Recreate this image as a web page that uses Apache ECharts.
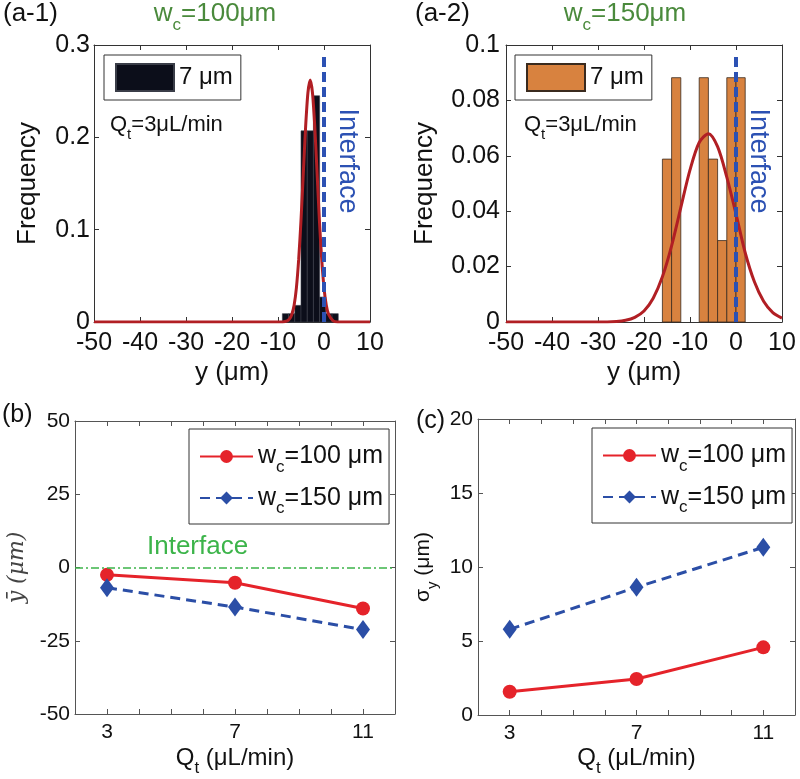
<!DOCTYPE html>
<html>
<head>
<meta charset="utf-8">
<title>Lateral particle position</title>
<script src="https://cdn.jsdelivr.net/npm/echarts@6/dist/echarts.min.js"></script>
<style>
  html, body { margin: 0; padding: 0; background: #fff; }
  #chart { width: 800px; height: 779px; }
</style>
</head>
<body>
<div id="chart"></div>
<script>
// (a-1) histogram, w_c = 100 um : bin edges + frequency of each bin
var a1Edges = [-9.05, -7.7, -6.35, -5.0, -3.65, -2.3, -0.95, 0.4, 1.75, 3.1];
var a1Freq = [0.009, 0.009, 0.018, 0.207, 0.207, 0.245, 0.027, 0.009, 0.009];
var a1FitX = [-50, -10, -9, -8, -7.5, -7, -6.5, -6, -5.5, -5, -4.5, -4, -3.5, -3, -2.5, -2, -1.5, -1, -0.5, 0, 0.5, 1, 2, 3, 10];
var a1FitY = [0, 0, 0.0001, 0.0012, 0.0033, 0.0082, 0.018, 0.037, 0.068, 0.110, 0.161, 0.211, 0.248, 0.262, 0.248, 0.211, 0.161, 0.110, 0.068, 0.037, 0.018, 0.0082, 0.0012, 0.0001, 0];

// (a-2) histogram, w_c = 150 um
var a2Edges = [-16, -14, -12, -10, -8, -6, -4, -2, 0, 2];
var a2Freq = [0.0588, 0.0882, 0, 0, 0.0882, 0.0588, 0.0294, 0.0882, 0.0882];
var a2FitX = [-50, -30, -26, -24, -22, -20, -18, -16, -14, -12, -10, -8, -6, -4, -2, 0, 2, 4, 6, 8, 10];
var a2FitY = [0, 0, 0.0002, 0.0006, 0.0017, 0.004, 0.0086, 0.0163, 0.0275, 0.0413, 0.0549, 0.0648, 0.068, 0.0633, 0.0523, 0.039, 0.025, 0.0145, 0.0075, 0.0034, 0.0014];

// interface (dashed line at y = 0)
var interfaceX = [0, 0];
var a1InterfaceY = [0, 0.292];
var a2InterfaceY = [0, 0.0975];

// (b) mean position and (c) standard deviation vs total flow rate
var qt = [3, 7, 11];
var qtTickLabels = [3, 7, 11];
var meanW100 = [-2.5, -5.2, -14.0];
var meanW150 = [-6.9, -13.5, -21.2];
var sigmaW100 = [1.57, 2.43, 4.57];
var sigmaW150 = [5.79, 8.63, 11.33];

var FONT = 'Liberation Sans, Arial, sans-serif';
function subRich(size, subSize, lh) {
  return {
    n: { fontSize: size, fontFamily: FONT, lineHeight: size },
    s: { fontSize: subSize, fontFamily: FONT, lineHeight: lh, verticalAlign: 'bottom' }
  };
}

function zip(xs, ys) {
  return xs.map(function (x, i) { return [x, ys[i]]; });
}
function hist(edges, freq) {
  var out = [];
  for (var i = 0; i < freq.length; i++) {
    if (freq[i] > 0) out.push([edges[i], edges[i + 1], freq[i]]);
  }
  return out;
}
function renderBin(params, api) {
  var p0 = api.coord([api.value(0), api.value(2)]);
  var p1 = api.coord([api.value(1), 0]);
  return {
    type: 'rect',
    shape: { x: p0[0], y: p0[1], width: p1[0] - p0[0], height: p1[1] - p0[1] },
    style: api.style()
  };
}

function axisBase(gi, min, max, interval, color, fontSize, margin) {
  return {
    type: 'value', gridIndex: gi, min: min, max: max, interval: interval,
    axisLine: { show: true, onZero: false, lineStyle: { color: color, width: 1 } },
    axisTick: { show: true, inside: true, length: 5, lineStyle: { color: color } },
    splitLine: { show: false },
    axisLabel: { color: '#111', fontSize: fontSize, fontFamily: FONT, margin: margin }
  };
}
function mirror(ax, pos) {
  var m = Object.assign({}, ax);
  m.position = pos;
  m.name = '';
  m.axisLabel = { show: false };
  return m;
}

var xA1 = Object.assign(axisBase(0, -50, 10, 10, '#333', 25, 9), {
  name: 'y (μm)', nameLocation: 'middle', nameGap: 38,
  nameTextStyle: { fontSize: 26, fontFamily: FONT, color: '#111' }
});
var xA2 = Object.assign(axisBase(1, -50, 10, 10, '#333', 25, 9), {
  name: 'y (μm)', nameLocation: 'middle', nameGap: 38,
  nameTextStyle: { fontSize: 26, fontFamily: FONT, color: '#111' }
});
var xB = Object.assign(axisBase(2, 2, 12, 1, '#555', 21, 8), {
  name: '{n|Q}{s|t}{n| (μL/min)}', nameLocation: 'middle', nameGap: 25,
  nameTextStyle: { color: '#111', rich: subRich(24, 17, 38) }
});
var xC = Object.assign(axisBase(3, 2, 12, 1, '#555', 21, 8), {
  name: '{n|Q}{s|t}{n| (μL/min)}', nameLocation: 'middle', nameGap: 24,
  nameTextStyle: { color: '#111', rich: subRich(24, 17, 38) }
});
[xB, xC].forEach(function (ax) {
  ax.axisLabel.formatter = function (v) { return qtTickLabels.indexOf(v) >= 0 ? String(v) : ''; };
});

var yA1 = Object.assign(axisBase(0, 0, 0.3, 0.1, '#333', 25, 4), {
  name: 'Frequency', nameLocation: 'middle', nameGap: 53,
  nameTextStyle: { fontSize: 26, fontFamily: FONT, color: '#111' }
});
var yA2 = Object.assign(axisBase(1, 0, 0.1, 0.02, '#333', 25, 6), {
  name: 'Frequency', nameLocation: 'middle', nameGap: 68,
  nameTextStyle: { fontSize: 26, fontFamily: FONT, color: '#111' }
});
var yB = Object.assign(axisBase(2, -50, 50, 25, '#555', 21, 5), {
  name: 'ȳ (μm)', nameLocation: 'middle', nameGap: 47,
  nameTextStyle: { fontSize: 22, fontFamily: 'DejaVu Serif, serif', fontStyle: 'italic', color: '#444' }
});
var yC = Object.assign(axisBase(3, 0, 20, 5, '#555', 21, 5), {
  name: '{n|σ}{s|y}{n| (μm)}', nameLocation: 'middle', nameGap: 38,
  nameTextStyle: { color: '#111', rich: subRich(21, 15, 34) }
});

var legendBase = {
  orient: 'vertical', backgroundColor: '#fff', borderColor: '#333', borderWidth: 1,
  textStyle: { fontSize: 25, fontFamily: FONT, color: '#111', rich: subRich(25, 17, 38) },
  selectedMode: false
};

var option = {
  animation: false,
  backgroundColor: '#fff',
  grid: [
    { left: 94, top: 45, width: 276, height: 277 },
    { left: 506, top: 45, width: 276, height: 277 },
    { left: 75, top: 421, width: 320, height: 293 },
    { left: 478, top: 419, width: 317, height: 296 }
  ],
  xAxis: [xA1, xA2, xB, xC,
    mirror(xA1, 'top'), mirror(xA2, 'top'), mirror(xB, 'top'), mirror(xC, 'top')],
  yAxis: [yA1, yA2, yB, yC,
    mirror(yA1, 'right'), mirror(yA2, 'right'), mirror(yB, 'right'), mirror(yC, 'right')],
  legend: [
    Object.assign({}, legendBase, {
      left: 104, top: 55, padding: [8, 8, 8, 11], itemWidth: 58, itemHeight: 27,
      textStyle: { fontSize: 24, fontFamily: FONT, color: '#111' },
      data: [{ name: 'a1hist', icon: 'rect' }],
      formatter: function () { return '7 μm'; }
    }),
    Object.assign({}, legendBase, {
      left: 515, top: 55, padding: [8, 8, 8, 11], itemWidth: 58, itemHeight: 27,
      textStyle: { fontSize: 24, fontFamily: FONT, color: '#111' },
      data: [{ name: 'a2hist', icon: 'rect' }],
      formatter: function () { return '7 μm'; }
    }),
    Object.assign({}, legendBase, {
      left: 189, top: 429, padding: [15, 6, 7, 10], itemWidth: 53, itemHeight: 16, itemGap: 10,
      data: ['b100', 'b150'],
      formatter: function (n) { return n === 'b100' ? '{n|w}{s|c}{n|=100 μm}' : '{n|w}{s|c}{n|=150 μm}'; }
    }),
    Object.assign({}, legendBase, {
      left: 592, top: 428, padding: [15, 6, 7, 10], itemWidth: 53, itemHeight: 16, itemGap: 10,
      data: ['c100', 'c150'],
      formatter: function (n) { return n === 'c100' ? '{n|w}{s|c}{n|=100 μm}' : '{n|w}{s|c}{n|=150 μm}'; }
    })
  ],
  series: [
    {
      type: 'custom', name: 'a1hist', xAxisIndex: 0, yAxisIndex: 0,
      data: hist(a1Edges, a1Freq), encode: { x: [0, 1], y: 2 },
      itemStyle: { color: '#0c0e1a', borderColor: '#3a3d48', borderWidth: 0.6 },
      renderItem: renderBin, z: 2
    },
    {
      type: 'line', name: 'a1fit', xAxisIndex: 0, yAxisIndex: 0,
      data: zip(a1FitX, a1FitY), showSymbol: false, smooth: 0.2,
      lineStyle: { color: '#b11f24', width: 3 }, itemStyle: { color: '#b11f24' }, z: 3
    },
    {
      type: 'line', name: 'a1interface', xAxisIndex: 0, yAxisIndex: 0,
      data: zip(interfaceX, a1InterfaceY), showSymbol: false,
      lineStyle: { color: '#2c51b3', width: 4, type: [10, 5] }, z: 4
    },
    {
      type: 'custom', name: 'a2hist', xAxisIndex: 1, yAxisIndex: 1,
      data: hist(a2Edges, a2Freq), encode: { x: [0, 1], y: 2 },
      itemStyle: { color: '#d8823f', borderColor: '#3a2a1e', borderWidth: 0.8 },
      renderItem: renderBin, z: 2
    },
    {
      type: 'line', name: 'a2fit', xAxisIndex: 1, yAxisIndex: 1,
      data: zip(a2FitX, a2FitY), showSymbol: false, smooth: 0.3,
      lineStyle: { color: '#b11f24', width: 3 }, itemStyle: { color: '#b11f24' }, z: 3
    },
    {
      type: 'line', name: 'a2interface', xAxisIndex: 1, yAxisIndex: 1,
      data: zip(interfaceX, a2InterfaceY), showSymbol: false,
      lineStyle: { color: '#2c51b3', width: 4, type: [10, 5] }, z: 4
    },
    {
      type: 'line', name: 'b100', xAxisIndex: 2, yAxisIndex: 2,
      data: zip(qt, meanW100), symbol: 'circle', symbolSize: 14,
      lineStyle: { color: '#e5232a', width: 3 }, itemStyle: { color: '#e5232a' }, z: 4,
      markLine: {
        silent: true, symbol: 'none', label: { show: false },
        lineStyle: { color: '#3cb44a', width: 1.5, type: [8, 3, 2, 3] },
        data: [{ yAxis: 0 }]
      }
    },
    {
      type: 'line', name: 'b150', xAxisIndex: 2, yAxisIndex: 2,
      data: zip(qt, meanW150), symbol: 'diamond', symbolSize: [14, 19],
      lineStyle: { color: '#2b4ea6', width: 3, type: [10, 6] }, itemStyle: { color: '#2b4ea6' }, z: 4
    },
    {
      type: 'line', name: 'c100', xAxisIndex: 3, yAxisIndex: 3,
      data: zip(qt, sigmaW100), symbol: 'circle', symbolSize: 14,
      lineStyle: { color: '#e5232a', width: 3 }, itemStyle: { color: '#e5232a' }, z: 4
    },
    {
      type: 'line', name: 'c150', xAxisIndex: 3, yAxisIndex: 3,
      data: zip(qt, sigmaW150), symbol: 'diamond', symbolSize: [14, 19],
      lineStyle: { color: '#2b4ea6', width: 3, type: [10, 6] }, itemStyle: { color: '#2b4ea6' }, z: 4
    }
  ],
  graphic: [
    { type: 'text', x: 3, y: 14, style: { text: '(a-1)', fill: '#111', fontSize: 26, fontFamily: FONT, verticalAlign: 'middle' } },
    { type: 'text', x: 415, y: 14, style: { text: '(a-2)', fill: '#111', fontSize: 26, fontFamily: FONT, verticalAlign: 'middle' } },
    { type: 'text', x: 215, y: 14, style: { text: '{n|w}{s|c}{n|=100μm}', fill: '#4a8a3c', align: 'center', verticalAlign: 'middle', rich: subRich(26, 17, 40) } },
    { type: 'text', x: 625, y: 14, style: { text: '{n|w}{s|c}{n|=150μm}', fill: '#4a8a3c', align: 'center', verticalAlign: 'middle', rich: subRich(26, 17, 40) } },
    { type: 'text', x: 110, y: 125, style: { text: '{n|Q}{s|t}{n|=3μL/min}', fill: '#111', verticalAlign: 'middle', rich: subRich(22, 15, 34) } },
    { type: 'text', x: 524, y: 125, style: { text: '{n|Q}{s|t}{n|=3μL/min}', fill: '#111', verticalAlign: 'middle', rich: subRich(22, 15, 34) } },
    { type: 'text', x: 347, y: 161, rotation: -Math.PI / 2, style: { text: 'Interface', fill: '#2c51b3', fontSize: 27, fontFamily: FONT, align: 'center', verticalAlign: 'middle' } },
    { type: 'text', x: 758, y: 161, rotation: -Math.PI / 2, style: { text: 'Interface', fill: '#2c51b3', fontSize: 27, fontFamily: FONT, align: 'center', verticalAlign: 'middle' } },
    { type: 'text', x: 147, y: 547, style: { text: 'Interface', fill: '#3cb44a', fontSize: 26, fontFamily: FONT, verticalAlign: 'middle' } },
    { type: 'text', x: 2, y: 415, style: { text: '(b)', fill: '#111', fontSize: 25, fontFamily: FONT, verticalAlign: 'middle' } },
    { type: 'text', x: 416, y: 421, style: { text: '(c)', fill: '#111', fontSize: 25, fontFamily: FONT, verticalAlign: 'middle' } }
  ]
};

var chart = echarts.init(document.getElementById('chart'));
chart.setOption(option);
</script>
</body>
</html>
